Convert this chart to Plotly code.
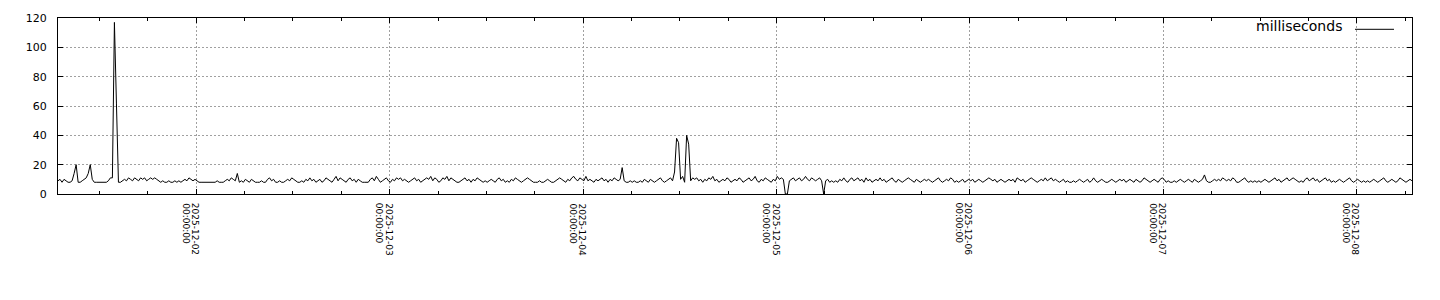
import pandas as pd
import plotly.graph_objects as go

# ---------------- data ----------------
start_time = "2025-12-01 06:51"
sample_step = "15min"

ms_block1 = [
    9, 10, 8, 10, 9, 8, 8, 9, 14, 20, 8, 8, 9, 10, 11, 14, 20, 10, 8, 8, 8, 8, 8, 8,
    8, 9, 11, 11, 117, 62, 8, 8, 9, 10, 9, 11, 10, 9, 11, 10, 9, 11, 10, 11, 9, 10, 11, 10,
    11, 10, 9, 8, 9, 8, 8, 9, 8, 8, 9, 8, 9, 8, 9, 10, 9, 11, 10, 9, 10, 9, 8, 8,
    8, 8, 8, 8, 8, 8, 8, 9, 8, 8, 8, 9, 10, 9, 11, 10, 9, 14, 8, 9, 8, 10, 9, 8,
]
ms_block2 = [
    10, 9, 8, 8, 8, 9, 8, 8, 10, 11, 9, 10, 8, 8, 9, 8, 8, 9, 10, 9, 11, 10, 9, 8,
    8, 9, 8, 10, 9, 11, 9, 10, 8, 9, 10, 8, 9, 11, 10, 9, 8, 10, 12, 9, 11, 10, 9, 8,
    10, 11, 9, 10, 8, 10, 9, 8, 8, 8, 8, 10, 11, 9, 12, 10, 8, 9, 10, 11, 9, 8, 10, 9,
    11, 10, 11, 9, 10, 9, 8, 9, 10, 11, 9, 10, 8, 9, 10, 11, 10, 12, 9, 11, 10, 8, 9, 11,
]
ms_block3 = [
    10, 12, 9, 11, 10, 9, 8, 8, 9, 10, 11, 9, 10, 8, 10, 9, 11, 10, 9, 8, 9, 8, 9, 10,
    9, 8, 10, 11, 9, 10, 8, 9, 8, 10, 9, 11, 10, 9, 8, 9, 10, 11, 10, 9, 8, 8, 8, 9,
    8, 8, 9, 10, 9, 8, 8, 9, 10, 11, 10, 9, 8, 10, 9, 11, 12, 10, 9, 11, 10, 9, 12, 9,
    10, 9, 8, 10, 9, 10, 11, 9, 10, 8, 10, 9, 11, 10, 9, 10, 18, 9, 8, 8, 9, 8, 9, 8,
]
ms_block4 = [
    8, 9, 8, 10, 9, 8, 10, 9, 8, 9, 10, 11, 9, 8, 9, 10, 11, 9, 15, 38, 35, 10, 12, 8,
    40, 34, 9, 11, 10, 11, 9, 10, 8, 10, 9, 11, 10, 12, 9, 10, 8, 9, 10, 9, 11, 10, 8, 9,
    10, 9, 11, 10, 8, 9, 10, 11, 9, 10, 12, 9, 8, 10, 9, 11, 10, 9, 8, 10, 9, 12, 10, 11,
    10, 0, 0, 9, 10, 11, 9, 10, 11, 9, 10, 12, 10, 9, 11, 10, 9, 10, 11, 9, 0, 9, 10, 8,
]
ms_block5 = [
    9, 8, 9, 8, 10, 9, 11, 9, 8, 10, 11, 9, 10, 11, 9, 10, 8, 11, 9, 10, 8, 9, 10, 9,
    11, 9, 10, 8, 9, 10, 11, 9, 8, 10, 9, 8, 9, 10, 11, 10, 9, 8, 10, 9, 8, 9, 10, 9,
    10, 9, 8, 9, 10, 11, 9, 8, 9, 10, 9, 11, 10, 8, 9, 8, 9, 10, 8, 9, 10, 9, 10, 8,
    9, 10, 9, 8, 9, 10, 11, 10, 9, 10, 8, 9, 10, 9, 8, 9, 10, 9, 10, 8, 11, 10, 9, 10,
]
ms_block6 = [
    8, 9, 10, 11, 10, 9, 8, 9, 10, 9, 11, 9, 10, 11, 9, 10, 9, 8, 9, 10, 8, 9, 8, 8,
    9, 8, 9, 10, 9, 8, 9, 10, 8, 9, 11, 9, 8, 9, 10, 9, 8, 8, 9, 10, 9, 8, 9, 10,
    9, 10, 8, 9, 10, 9, 8, 10, 9, 8, 9, 11, 10, 9, 8, 9, 10, 9, 8, 10, 11, 10, 8, 9,
    8, 8, 9, 8, 9, 10, 9, 8, 9, 10, 9, 8, 10, 9, 8, 9, 10, 13, 9, 8, 8, 9, 10, 9,
]
ms_block7 = [
    10, 9, 11, 10, 9, 10, 9, 11, 10, 8, 8, 9, 10, 11, 9, 8, 9, 8, 9, 8, 9, 8, 9, 10,
    9, 8, 9, 10, 11, 9, 10, 8, 9, 10, 11, 9, 10, 11, 10, 9, 8, 9, 8, 10, 11, 9, 10, 11,
    9, 10, 8, 9, 10, 11, 9, 10, 8, 9, 8, 9, 10, 9, 8, 9, 10, 11, 9, 8, 9, 10, 9, 8,
    9, 8, 9, 8, 9, 10, 9, 8, 9, 10, 11, 9, 8, 9, 10, 9, 8, 9, 11, 10, 9, 8, 9, 10,
    9,
]

day_ticks = ["2025-12-02", "2025-12-03", "2025-12-04", "2025-12-05",
             "2025-12-06", "2025-12-07", "2025-12-08"]
date_labels = ["2025-12-02", "2025-12-03", "2025-12-04", "2025-12-05",
               "2025-12-06", "2025-12-07", "2025-12-08"]
time_labels = ["00:00:00", "00:00:00", "00:00:00", "00:00:00",
               "00:00:00", "00:00:00", "00:00:00"]
y_ticks = [0, 20, 40, 60, 80, 100, 120]
series_name = "milliseconds"

# ---------------- figure ----------------
values = ms_block1 + ms_block2 + ms_block3 + ms_block4 + ms_block5 + ms_block6 + ms_block7
times = pd.date_range(start=start_time, periods=len(values), freq=sample_step)

FONT = "DejaVu Sans"
GRID = "#a0a0a0"

fig = go.Figure()
fig.add_trace(go.Scatter(
    x=times, y=values, mode="lines", name=series_name,
    line=dict(color="black", width=1), showlegend=False,
))

fig.update_layout(
    width=1440, height=300,
    margin=dict(l=58, r=28, t=15, b=106),
    paper_bgcolor="white", plot_bgcolor="white",
    font=dict(family=FONT, size=10, color="black"),
    showlegend=False,
)

fig.update_xaxes(
    range=[times[0], times[-1]],
    tickmode="array", tickvals=day_ticks, showticklabels=False,
    ticks="inside", ticklen=5, tickcolor="black", tickwidth=1,
    showline=True, linecolor="black", linewidth=1, mirror="ticks",
    showgrid=True, gridcolor=GRID, gridwidth=1, griddash="2px,2px",
    zeroline=False,
    minor=dict(dtick=6 * 3600 * 1000, tick0="2025-12-01 00:00",
               ticks="inside", ticklen=3, tickcolor="black", showgrid=False),
)

fig.update_yaxes(
    range=[0, 120], tickmode="array", tickvals=y_ticks,
    ticks="inside", ticklen=5, tickcolor="black", tickwidth=1,
    showline=True, linecolor="black", linewidth=1, mirror="ticks",
    showgrid=True, gridcolor=GRID, gridwidth=1, griddash="2px,2px",
    zeroline=False, ticklabelstandoff=8,
    tickfont=dict(family=FONT, size=11, color="black"),
)

# rotated two-part date labels under each day tick
for d, dl, tl in zip(day_ticks, date_labels, time_labels):
    fig.add_annotation(x=d, xref="x", y=0, yref="paper", text=dl, showarrow=False,
                       textangle=90, xanchor="center", yanchor="top",
                       xshift=-1, yshift=-7, borderpad=1,
                       font=dict(family=FONT, size=9, color="black"))
    fig.add_annotation(x=d, xref="x", y=0, yref="paper", text=tl, showarrow=False,
                       textangle=90, xanchor="center", yanchor="top",
                       xshift=-10, yshift=-7, borderpad=1,
                       font=dict(family=FONT, size=9, color="black"))

# key (gnuplot style: title then line sample)
fig.add_annotation(x=0.9498, xref="paper", y=0.956, yref="paper", text=series_name,
                   showarrow=False, xanchor="right", yanchor="middle",
                   font=dict(family=FONT, size=14, color="black"))
fig.add_shape(type="line", xref="paper", yref="paper",
              x0=0.9579, x1=0.9867, y0=0.9358, y1=0.9358,
              line=dict(color="black", width=1))

fig.write_html("out.html")
